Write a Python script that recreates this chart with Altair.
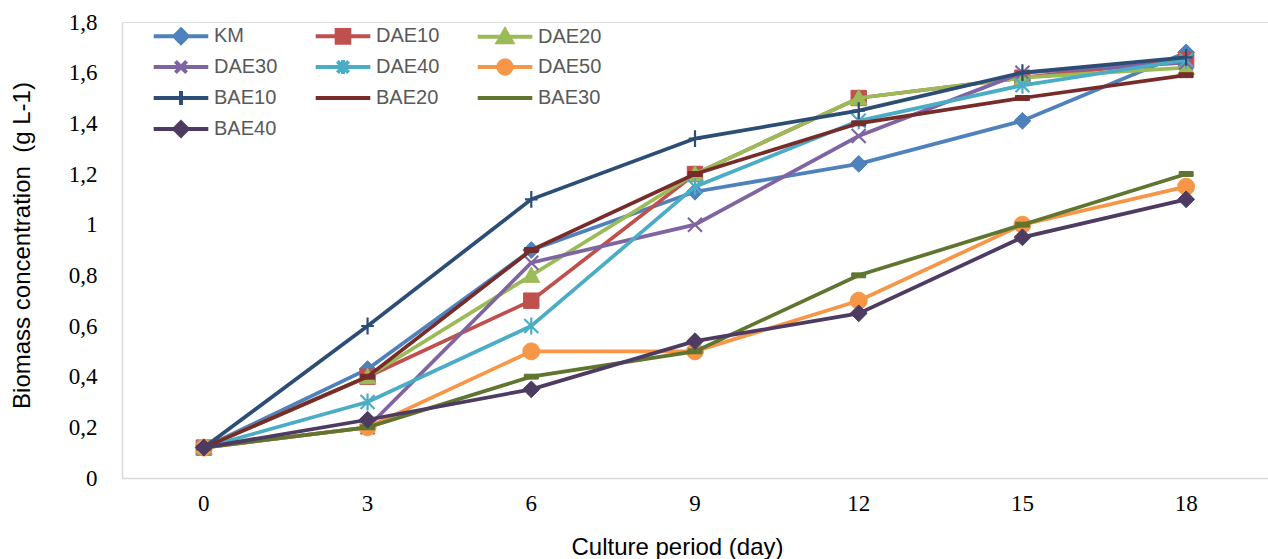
import altair as alt
import pandas as pd

days = [0, 3, 6, 9, 12, 15, 18]
series_names = ["KM", "DAE10", "DAE20", "DAE30", "DAE40", "DAE50", "BAE10", "BAE20", "BAE30", "BAE40"]
KM = [0.12, 0.43, 0.90, 1.13, 1.24, 1.41, 1.68]
DAE10 = [0.12, 0.40, 0.70, 1.20, 1.50, 1.58, 1.65]
DAE20 = [0.12, 0.40, 0.80, 1.20, 1.50, 1.58, 1.62]
DAE30 = [0.12, 0.20, 0.85, 1.00, 1.35, 1.60, 1.64]
DAE40 = [0.12, 0.30, 0.60, 1.15, 1.41, 1.55, 1.65]
DAE50 = [0.12, 0.20, 0.50, 0.50, 0.70, 1.00, 1.15]
BAE10 = [0.12, 0.60, 1.10, 1.34, 1.45, 1.60, 1.66]
BAE20 = [0.12, 0.40, 0.90, 1.20, 1.40, 1.50, 1.59]
BAE30 = [0.12, 0.20, 0.40, 0.50, 0.80, 1.00, 1.20]
BAE40 = [0.12, 0.23, 0.35, 0.54, 0.65, 0.95, 1.10]
values = [KM, DAE10, DAE20, DAE30, DAE40, DAE50, BAE10, BAE20, BAE30, BAE40]

colors = ["#4F81BD", "#C0504D", "#9BBB59", "#8064A2", "#4BACC6",
          "#F79646", "#2C4D75", "#772C2A", "#5F7530", "#4D3B62"]

# marker paths (unit box, scaled by sqrt(size)/2)
markers = {
    "diamond": "M0,-1.2L1.2,0L0,1.2L-1.2,0Z",
    "square": "M-1.1,-1.1H1.1V1.1H-1.1Z",
    "triangle": "M0,-1.2L1.2,1L-1.2,1Z",
    "x": "M-1,-1L1,1M-1,1L1,-1",
    "star": "M-1,-1L1,1M-1,1L1,-1M0,-1.2V1.2",
    "circle": "M1.2,0A1.2,1.2,0,1,1,-1.2,0A1.2,1.2,0,1,1,1.2,0Z",
    "plus": "M-0.9,0H0.9M0,-1.2V1.2",
    "dash": "M-1,-0.35H1V0.35H-1Z",
}
marker_of = ["diamond", "square", "triangle", "x", "star", "circle", "plus", "dash", "dash", "diamond"]
stroke_only = {"x", "star", "plus"}

legend_markers = {
    "diamond": "M0,-0.95L0.95,0L0,0.95L-0.95,0Z",
    "square": "M-0.9,-0.9H0.9V0.9H-0.9Z",
    "triangle": "M0,-0.95L1,0.8L-1,0.8Z",
    "x": "M-0.8,-0.8L0.8,0.8M-0.8,0.8L0.8,-0.8",
    "star": "M-0.8,-0.8L0.8,0.8M-0.8,0.8L0.8,-0.8M0,-1V1",
    "circle": "M0.95,0A0.95,0.95,0,1,1,-0.95,0A0.95,0.95,0,1,1,0.95,0Z",
    "plus": "M0,-1V1",
    "dash": "",
}
legend_paths = ["M-3.9,0H3.9" + legend_markers[m] for m in marker_of]

rows = []
for name, vals in zip(series_names, values):
    for d, v in zip(days, vals):
        rows.append({"day": str(d), "value": v, "series": name})
df = pd.DataFrame(rows)

x_enc = alt.X("day:O", sort=[str(d) for d in days],
              scale=alt.Scale(type="band", paddingInner=0, paddingOuter=0),
              axis=alt.Axis(title="Culture period (day)", labelAngle=0, ticks=False,
                            labelFont="Liberation Serif", labelFontSize=23, labelColor="#000000",
                            labelPadding=14, domainColor="#D9D9D9", domainWidth=1.5,
                            titleFont="Liberation Sans", titleFontSize=24, titleFontWeight="normal",
                            titleColor="#000000", titleX=555, titleY=69, titleBaseline="middle",
                            titleAlign="center"))
y_enc = alt.Y("value:Q", scale=alt.Scale(domain=[0, 1.8], nice=False),
              axis=alt.Axis(title="Biomass concentration\u00a0 (g L-1)",
                            values=[0, 0.2, 0.4, 0.6, 0.8, 1, 1.2, 1.4, 1.6, 1.8],
                            labelExpr="replace(format(datum.value, '.2~f'), '.', ',')",
                            grid=False, ticks=False, labelFont="Liberation Serif", labelFontSize=23,
                            labelColor="#000000", labelPadding=25, domainColor="#D9D9D9", domainWidth=1.5,
                            titleFont="Liberation Sans", titleFontSize=24, titleFontWeight="normal",
                            titleColor="#000000", titleX=-100, titleY=223, titleAngle=270,
                            titleBaseline="middle", titleAlign="center"))

layers = []
for i, name in enumerate(series_names):
    sub = alt.Chart(df).transform_filter(alt.datum.series == name)
    layers.append(sub.mark_line(color=colors[i], strokeWidth=3.75).encode(x=x_enc, y=y_enc))
    m = marker_of[i]
    layers.append(sub.mark_point(shape=markers[m], size=196, opacity=1,
                                 filled=m not in stroke_only,
                                 fill=colors[i],
                                 stroke=colors[i],
                                 strokeWidth=2.2 if m in stroke_only else 1).encode(x=x_enc, y=y_enc))

legend_opts = dict(title=None, orient="none", legendX=49, legendY=4, columns=3, direction="horizontal",
                   symbolSize=196, symbolStrokeWidth=4, labelOffset=23,
                   columnPadding=29, rowPadding=1,
                   labelFont="Liberation Sans", labelFontSize=20,
                   labelColor="#595959", symbolOpacity=1)

legend_df = pd.DataFrame({"series": series_names})
legend_layer = alt.Chart(legend_df).transform_filter("false").mark_point(
    size=196, opacity=1, filled=True, strokeWidth=4
).encode(
    fill=alt.Fill("series:N", sort=series_names,
                  scale=alt.Scale(domain=series_names, range=colors), legend=None),
    stroke=alt.Stroke("series:N", sort=series_names,
                      scale=alt.Scale(domain=series_names, range=colors),
                      legend=alt.Legend(**legend_opts)),
    shape=alt.Shape("series:N", sort=series_names,
                    scale=alt.Scale(domain=series_names, range=legend_paths),
                    legend=alt.Legend(**legend_opts)),
)

chart = alt.layer(*layers, legend_layer).properties(
    width=1146, height=456,
    autosize=alt.AutoSizeParams(type="none"),
    padding={"left": 122, "top": 22, "right": 0, "bottom": 81},
).configure_view(stroke=None).configure(background="white")

chart.save("out.html", embed_options={"renderer": "svg", "actions": False})
